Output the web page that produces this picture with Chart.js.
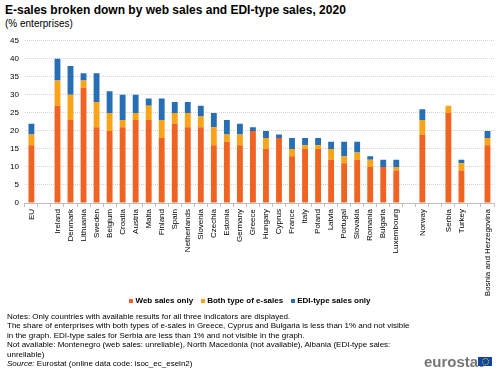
<!DOCTYPE html>
<html>
<head>
<meta charset="utf-8">
<script src="https://cdn.jsdelivr.net/npm/chart.js@4/dist/chart.umd.min.js"></script>
<style>
  body { margin: 0; width: 500px; height: 372px; background: #fff; font-family: "Liberation Sans", Arial, sans-serif; position: relative; overflow: hidden; }
  #title { position: absolute; left: 5px; top: 3px; font-size: 12px; font-weight: bold; color: #000; white-space: nowrap; }
  #subtitle { position: absolute; left: 5px; top: 18px; font-size: 10px; color: #000; }
  #wrap { position: absolute; left: 0; top: 30px; width: 500px; height: 268px; }
  #legend { position: absolute; left: 0; top: 296px; width: 500px; display: flex; justify-content: center; gap: 8px; font-size: 8px; font-weight: bold; color: #000; }
  #legend span { display: flex; align-items: center; }
  #legend i { display: inline-block; width: 4px; height: 4px; margin-right: 2px; }
  #notes { position: absolute; left: 7px; top: 312px; font-size: 8px; line-height: 9.4px; color: #000; white-space: nowrap; }
  #logo { position: absolute; left: 424px; top: 353px; font-size: 15px; color: #767676; font-weight: bold; }
  #flag { position: absolute; left: 478px; top: 357px; width: 14px; height: 9px; background: #0e47a1; }
  #flag span { position: absolute; left: 3.5px; top: 1px; width: 5px; height: 5px; border: 1px dotted #ffd200; border-radius: 50%; }
</style>
</head>
<body>
<div id="title">E-sales broken down by web sales and EDI-type sales, 2020</div>
<div id="subtitle">(% enterprises)</div>
<div id="wrap"><canvas id="chart"></canvas></div>
<div id="legend"></div>
<div id="notes">
Notes: Only countries with available results for all three indicators are displayed.<br>
The share of enterprises with both types of e-sales in Greece, Cyprus and Bulgaria is less than 1% and not visible<br>
in the graph. EDI-type sales for Serbia are less than 1% and not visible in the graph.<br>
Not available: Montenegro (web sales: unreliable), North Macedonia (not available), Albania (EDI-type sales:<br>
unreliable)<br>
<i>Source:</i> Eurostat (online data code: isoc_ec_eseln2)
</div>
<div id="logo">eurostat</div>
<div id="flag"><span></span></div>

<script>
// categories, empty strings are the gaps between groups
const countries = ["EU", "", "Ireland", "Denmark", "Lithuania", "Sweden", "Belgium", "Croatia", "Austria", "Malta",
  "Finland", "Spain", "Netherlands", "Slovenia", "Czechia", "Estonia", "Germany", "Greece", "Hungary", "Cyprus",
  "France", "Italy", "Poland", "Latvia", "Portugal", "Slovakia", "Romania", "Bulgaria", "Luxembourg", "",
  "Norway", "", "Serbia", "Turkey", "", "Bosnia and Herzegovina"];

const webOnly = [16, null, 27, 23, 32, 21, 20, 21, 23, 23,
  18, 22, 21, 21, 16, 17, 16, 20, 15, 18,
  13, 15, 15, 12, 11, 12, 10, 10, 9, null,
  19, null, 25, 9, null, 16];

const bothTypes = [3, null, 7, 7, 2, 7, 5, 2, 2, 4,
  5, 3, 4, 3, 5, 2, 3, 0, 3, 0,
  2, 1, 1, 3, 2, 2, 2, 0, 1, null,
  4, null, 2, 2, null, 2];

const ediOnly = [3, null, 6, 8, 2, 8, 6, 7, 5, 2,
  6, 3, 3, 3, 4, 4, 3, 1, 2, 1,
  3, 2, 2, 2, 4, 3, 1, 2, 2, null,
  3, null, 0, 1, null, 2];

const yTicks = [0, 5, 10, 15, 20, 25, 30, 35, 40, 45];

const colors = { web: "#f06423", both: "#faa519", edi: "#286eb4" };

const ctx = document.getElementById("chart");
const chart = new Chart(ctx, {
  type: "bar",
  data: {
    labels: countries,
    datasets: [
      { label: "Web sales only", data: webOnly, backgroundColor: colors.web },
      { label: "Both type of e-sales", data: bothTypes, backgroundColor: colors.both },
      { label: "EDI-type sales only", data: ediOnly, backgroundColor: colors.edi }
    ]
  },
  options: {
    responsive: true,
    maintainAspectRatio: false,
    animation: false,
    layout: { padding: { top: 2, right: 6, left: 4, bottom: 0 } },
    datasets: { bar: { barPercentage: 0.45, categoryPercentage: 1 } },
    plugins: {
      title: { display: false },
      tooltip: { enabled: false },
      legend: { display: false }
    },
    scales: {
      x: {
        stacked: true,
        afterFit: axis => { axis.height = 95; },
        grid: { drawOnChartArea: false, drawTicks: true, tickLength: 4, color: "#bfbfbf" },
        border: { color: "#bfbfbf" },
        ticks: {
          autoSkip: false,
          minRotation: 90,
          maxRotation: 90,
          color: "#000",
          padding: 2,
          font: { family: "Liberation Sans", size: 8 }
        }
      },
      y: {
        stacked: true,
        min: 0,
        max: 45,
        afterBuildTicks: axis => { axis.ticks = yTicks.map(v => ({ value: v })); },
        border: { display: false, dash: [1, 1] },
        grid: { color: "#d4d4d4", drawTicks: false },
        ticks: {
          color: "#000",
          padding: 6,
          font: { family: "Liberation Sans", size: 8 }
        }
      }
    }
  }
});

// legend built from the chart datasets
const legend = document.getElementById("legend");
chart.data.datasets.forEach(ds => {
  const item = document.createElement("span");
  item.innerHTML = `<i style="background:${ds.backgroundColor}"></i>${ds.label}`;
  legend.appendChild(item);
});
</script>
</body>
</html>
